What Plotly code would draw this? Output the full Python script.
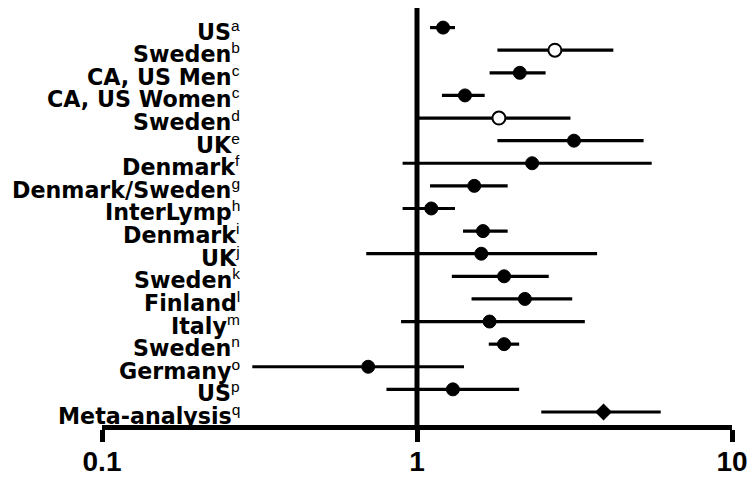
import plotly.graph_objects as go

labels = ["US", "Sweden", "CA, US Men", "CA, US Women", "Sweden", "UK", "Denmark",
          "Denmark/Sweden", "InterLymp", "Denmark", "UK", "Sweden", "Finland", "Italy",
          "Sweden", "Germany", "US", "Meta-analysis"]
sups = ["a", "b", "c", "c", "d", "e", "f", "g", "h", "i", "j", "k", "l", "m", "n", "o", "p", "q"]
odds = [1.21, 2.74, 2.12, 1.42, 1.82, 3.15, 2.32, 1.52, 1.11, 1.62, 1.60, 1.89, 2.20, 1.70, 1.89, 0.70, 1.30, 3.91]
lower = [1.10, 1.80, 1.70, 1.20, 1.00, 1.80, 0.90, 1.10, 0.90, 1.40, 0.69, 1.29, 1.49, 0.89, 1.69, 0.30, 0.80, 2.48]
upper = [1.32, 4.20, 2.56, 1.64, 3.07, 5.24, 5.56, 1.94, 1.32, 1.94, 3.73, 2.62, 3.11, 3.41, 2.11, 1.41, 2.11, 5.94]
kind = ["closed", "open", "closed", "closed", "open", "closed", "closed", "closed", "closed",
        "closed", "closed", "closed", "closed", "closed", "closed", "closed", "closed", "diamond"]
x_ticks = [0.1, 1, 10]
x_tick_labels = ["0.1", "1", "10"]

rows = list(range(1, len(labels) + 1))

fig = go.Figure()

styles = {
    "closed": dict(symbol="circle", size=13, color="black", line=dict(color="black", width=1)),
    "open": dict(symbol="circle", size=13, color="white", line=dict(color="black", width=2)),
    "diamond": dict(symbol="diamond", size=13, color="black", line=dict(color="black", width=0)),
}

for k, st in styles.items():
    idx = [i for i in range(len(labels)) if kind[i] == k]
    xs = [odds[i] for i in idx]
    ys = [rows[i] for i in idx]
    plus = [upper[i] - odds[i] for i in idx]
    minus = [odds[i] - lower[i] for i in idx]
    fig.add_trace(go.Scatter(
        x=xs, y=ys, mode="markers",
        marker=st,
        error_x=dict(type="data", array=plus, arrayminus=minus, symmetric=False,
                     width=0, thickness=3.2, color="black"),
        showlegend=False, hoverinfo="skip", cliponaxis=False,
    ))

W, H = 748, 472
ML, MR, MT, MB = 94, 24, 0, 55
label_right = 234  # px from figure left

annotations = []
for i, (lab, s) in enumerate(zip(labels, sups)):
    annotations.append(dict(
        text=f"<b>{lab}</b><sup><span style=\"font-family:Liberation Sans\">{s}</span></sup>",
        x=(label_right - ML) / (W - ML - MR), xref="paper", xanchor="right",
        y=rows[i], yref="y", yanchor="middle", yshift=-3,
        showarrow=False,
        font=dict(family="DejaVu Sans", size=22.2, color="black"),
    ))

fig.update_layout(
    width=W, height=H,
    margin=dict(l=ML, r=MR, t=MT, b=MB, pad=0),
    paper_bgcolor="white", plot_bgcolor="white",
    annotations=annotations,
    shapes=[dict(type="line", xref="paper", yref="paper", x0=0.5, x1=0.5, y0=0, y1=1,
                 line=dict(color="black", width=5))],
    xaxis=dict(type="log", range=[-1, 1], tickvals=x_ticks, ticktext=x_tick_labels,
               showgrid=False, zeroline=False, showline=True, linecolor="black", linewidth=5,
               ticks="outside", ticklen=12, tickwidth=5, tickcolor="black",
               ticklabelstandoff=-5,
               tickfont=dict(family="Liberation Sans", size=28, color="black", weight="bold")),
    yaxis=dict(range=[18.576, 0.133], visible=False, showgrid=False, zeroline=False),
)

fig.write_html("out.html")
